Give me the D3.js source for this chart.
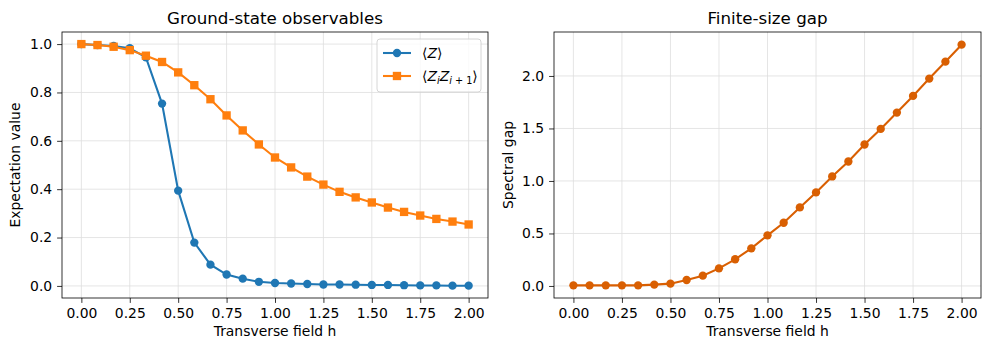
<!DOCTYPE html>
<html>
<head>
<meta charset="utf-8">
<script src="https://cdn.jsdelivr.net/npm/d3@7"></script>
<style>
  body { margin: 0; background: #fff; }
  svg { font-family: "DejaVu Sans", sans-serif; }
</style>
</head>
<body>
<div id="chart"></div>
<script>
// transverse field values, h = k/12 for k = 0..24
const fieldH = d3.range(25).map(k => k / 12);

// <Z> (magnetisation)
const magZ = [1.0, 0.996, 0.992, 0.983, 0.945, 0.754, 0.394, 0.179, 0.088, 0.047,
    0.030, 0.017, 0.012, 0.010, 0.008, 0.006, 0.006, 0.005, 0.004, 0.004,
    0.003, 0.002, 0.002, 0.001, 0.001];

// <Z_i Z_{i+1}> (nearest-neighbour correlator)
const corrZZ = [1.0, 0.996, 0.989, 0.975, 0.952, 0.926, 0.883, 0.830, 0.772, 0.705,
    0.643, 0.585, 0.531, 0.490, 0.452, 0.419, 0.389, 0.366, 0.345, 0.324,
    0.306, 0.291, 0.277, 0.266, 0.254];

// spectral gap
const gapValues = [0.006, 0.006, 0.006, 0.006, 0.006, 0.013, 0.022, 0.057, 0.098, 0.168,
    0.254, 0.358, 0.482, 0.602, 0.748, 0.891, 1.043, 1.185, 1.347, 1.496,
    1.651, 1.810, 1.975, 2.136, 2.298];

const xTicks = [0, 0.25, 0.5, 0.75, 1.0, 1.25, 1.5, 1.75, 2.0];
const leftYTicks = [0, 0.2, 0.4, 0.6, 0.8, 1.0];
const rightYTicks = [0, 0.5, 1.0, 1.5, 2.0];

const width = 989, height = 350;
const svg = d3.select('#chart').append('svg')
    .attr('width', width)
    .attr('height', height);

function drawPanel(opts) {
    const { left, right, top, bottom, yDomain, yTicks, yFmt, title, yLabel, yLabelX } = opts;

    const x = d3.scaleLinear().domain([-0.1, 2.1]).range([left, right]);
    const y = d3.scaleLinear().domain(yDomain).range([bottom, top]);

    const g = svg.append('g');

    // grid
    g.append('g').selectAll('line.vx')
        .data(xTicks).enter().append('line')
        .attr('x1', d => x(d)).attr('x2', d => x(d))
        .attr('y1', top).attr('y2', bottom)
        .attr('stroke', '#dedede').attr('stroke-width', 0.8);
    g.append('g').selectAll('line.hy')
        .data(yTicks).enter().append('line')
        .attr('x1', left).attr('x2', right)
        .attr('y1', d => y(d)).attr('y2', d => y(d))
        .attr('stroke', '#dedede').attr('stroke-width', 0.8);

    // axes
    const xAxis = g.append('g')
        .attr('transform', `translate(0,${bottom})`)
        .call(d3.axisBottom(x).tickValues(xTicks).tickFormat(d3.format('.2f')).tickSize(4.9).tickPadding(4.9));
    const yAxis = g.append('g')
        .attr('transform', `translate(${left},0)`)
        .call(d3.axisLeft(y).tickValues(yTicks).tickFormat(yFmt).tickSize(4.9).tickPadding(4.9));
    [xAxis, yAxis].forEach(a => {
        a.select('.domain').remove();
        a.selectAll('line').attr('stroke', '#000').attr('stroke-width', 0.8);
        a.selectAll('text').attr('fill', '#000').style('font-size', '13.9px')
            .style('font-family', '"DejaVu Sans", sans-serif');
    });

    // frame
    g.append('rect')
        .attr('x', left).attr('y', top)
        .attr('width', right - left).attr('height', bottom - top)
        .attr('fill', 'none').attr('stroke', '#000').attr('stroke-width', 0.8);

    // labels
    g.append('text')
        .attr('x', (left + right) / 2).attr('y', top - 8)
        .attr('text-anchor', 'middle')
        .style('font-size', '16.7px')
        .text(title);
    g.append('text')
        .attr('x', (left + right) / 2).attr('y', 336)
        .attr('text-anchor', 'middle')
        .style('font-size', '13.9px')
        .text('Transverse field h');
    g.append('text')
        .attr('transform', `translate(${yLabelX},${(top + bottom) / 2}) rotate(-90)`)
        .attr('text-anchor', 'middle')
        .style('font-size', '13.9px')
        .text(yLabel);

    return { g, x, y };
}

function drawSeries(panel, values, color, marker) {
    const { g, x, y } = panel;
    const pts = fieldH.map((h, i) => [h, values[i]]);
    const line = d3.line().x(d => x(d[0])).y(d => y(d[1]));
    g.append('path')
        .datum(pts)
        .attr('d', line)
        .attr('fill', 'none')
        .attr('stroke', color)
        .attr('stroke-width', 2.08);
    if (marker === 'circle') {
        g.append('g').selectAll('circle')
            .data(pts).enter().append('circle')
            .attr('cx', d => x(d[0])).attr('cy', d => y(d[1]))
            .attr('r', 4.17).attr('fill', color);
    } else {
        g.append('g').selectAll('rect')
            .data(pts).enter().append('rect')
            .attr('x', d => x(d[0]) - 4.17).attr('y', d => y(d[1]) - 4.17)
            .attr('width', 8.33).attr('height', 8.33).attr('fill', color);
    }
}

// Left panel
const leftPanel = drawPanel({
    left: 62, right: 488, top: 32, bottom: 298,
    yDomain: [-0.05, 1.05], yTicks: leftYTicks, yFmt: d3.format('.1f'),
    title: 'Ground-state observables', yLabel: 'Expectation value', yLabelX: 20
});
drawSeries(leftPanel, magZ, '#1f77b4', 'circle');
drawSeries(leftPanel, corrZZ, '#ff7f0e', 'square');

// Legend
const legend = leftPanel.g.append('g').attr('transform', 'translate(377,39)');
legend.append('rect')
    .attr('width', 104).attr('height', 53).attr('rx', 3)
    .attr('fill', '#fff').attr('fill-opacity', 0.8)
    .attr('stroke', '#cccccc').attr('stroke-width', 0.8);
const legendItems = [
    { color: '#1f77b4', marker: 'circle' },
    { color: '#ff7f0e', marker: 'square' }
];
legendItems.forEach((item, i) => {
    const row = legend.append('g').attr('transform', `translate(0,${14 + i * 23})`);
    row.append('line').attr('x1', 6).attr('x2', 34).attr('y1', 0).attr('y2', 0)
        .attr('stroke', item.color).attr('stroke-width', 2.08);
    if (item.marker === 'circle') {
        row.append('circle').attr('cx', 20).attr('cy', 0).attr('r', 4.17).attr('fill', item.color);
    } else {
        row.append('rect').attr('x', 15.8).attr('y', -4.17).attr('width', 8.33).attr('height', 8.33).attr('fill', item.color);
    }
});
const t1 = legend.append('text').attr('x', 45).attr('y', 19).style('font-size', '13.9px');
t1.append('tspan').text('\u27E8');
t1.append('tspan').style('font-style', 'italic').text('Z');
t1.append('tspan').text('\u27E9');
const t2 = legend.append('text').attr('x', 45).attr('y', 42).style('font-size', '13.9px');
t2.append('tspan').text('\u27E8');
t2.append('tspan').style('font-style', 'italic').text('Z');
t2.append('tspan').style('font-style', 'italic').style('font-size', '9.7px').attr('dy', 3).text('i');
t2.append('tspan').style('font-style', 'italic').attr('dy', -3).text('Z');
t2.append('tspan').style('font-size', '9.7px').attr('dy', 3)
    .html('<tspan font-style="italic">i</tspan> + 1');
t2.append('tspan').attr('dy', -3).text('\u27E9');

// Right panel
const rightPanel = drawPanel({
    left: 554, right: 981, top: 32, bottom: 298,
    yDomain: [-0.1146, 2.4186], yTicks: rightYTicks, yFmt: d3.format('.1f'),
    title: 'Finite-size gap', yLabel: 'Spectral gap', yLabelX: 513
});
drawSeries(rightPanel, gapValues, '#d95f02', 'circle');
</script>
</body>
</html>
